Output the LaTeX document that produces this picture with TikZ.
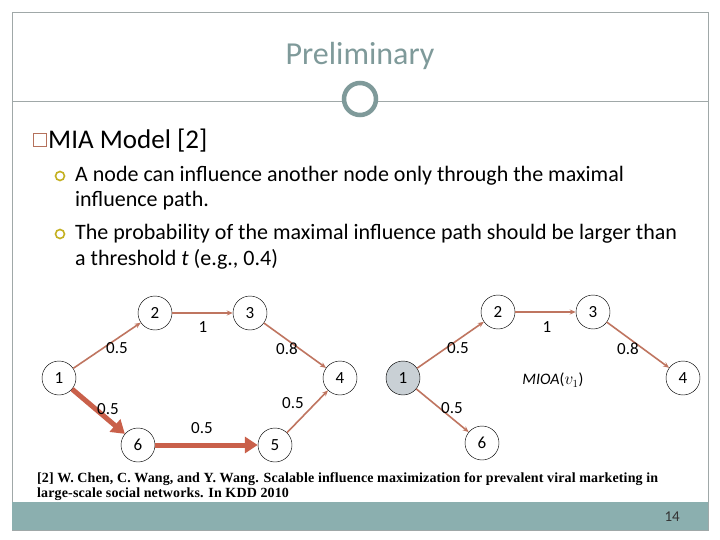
\documentclass[tikz,border=0pt]{standalone}
\usepackage{fontspec}
\setmainfont{Carlito}
\newfontfamily\reffont[LetterSpace=1]{Liberation Serif}
\usetikzlibrary{arrows.meta}
\definecolor{teal1}{HTML}{8BAFAF}
\definecolor{titlec}{HTML}{7F9A9A}
\definecolor{framec}{HTML}{A0A8A8}
\definecolor{edgec}{HTML}{BF7560}
\definecolor{thickc}{HTML}{C9604A}
\definecolor{bulc}{HTML}{B5715C}
\definecolor{subbul}{HTML}{C4B020}
\definecolor{seedc}{HTML}{C9D0D5}
\begin{document}
\begin{tikzpicture}[x=1pt,y=-1pt,
  vtx/.style={circle,draw=black,line width=0.45pt,minimum size=34pt,inner sep=0pt,font=\fontsize{17}{17}\selectfont},
  thin/.style={draw=edgec,line width=1.6pt,-{Stealth[length=6pt,width=5pt]}},
  thick/.style={draw=thickc,line width=5pt,-{Triangle[length=13pt,width=16pt]}},
  elab/.style={font=\fontsize{17}{17}\selectfont,inner sep=0pt},
  txt/.style={anchor=base west,inner sep=0pt,font=\fontsize{22}{22}\selectfont},
  reft/.style={anchor=base west,inner sep=0pt,font=\reffont\bfseries\fontsize{14}{15}\selectfont},
  subb/.style={circle,draw=subbul,line width=1.6pt,minimum size=9pt,inner sep=0pt}]
\useasboundingbox (0,0) rectangle (720,540);
\fill[white] (0,0) rectangle (720,540);
% frame
\draw[framec,line width=0.8pt] (12,12) rectangle (708,530);
\fill[teal1] (12,502) rectangle (708,530);
\draw[framec,line width=0.8pt] (12,101) -- (708,101);
\node[circle,draw=titlec,fill=white,line width=4.5pt,minimum size=32pt,inner sep=0pt] (ring) at (360,99) {};
\node[anchor=base,inner sep=0pt,font=\fontsize{32}{32}\selectfont,text=titlec] (title) at (360,65) {Preliminary};
% bullets
\node[draw=bulc,line width=1.2pt,minimum size=13pt,inner sep=0pt] (sq) at (40,140) {};
\node[anchor=base west,inner sep=0pt,font=\fontsize{27}{27}\selectfont] (h) at (48,149) {MIA Model [2]};
\node[subb] (b1) at (60,176) {};
\node[txt] (t1) at (75,182) {A node can influence another node only through the maximal};
\node[txt] (t1b) at (75,207) {influence path.};
\node[subb] (b2) at (60,234) {};
\node[txt] (t2) at (75,240) {The probability of the maximal influence path should be larger than};
\node[txt] (t2b) at (75,265) {a threshold \textit{t} (e.g., 0.4)};
% left graph
\node[vtx] (a1) at (59,378) {1};
\node[vtx] (a2) at (155,313) {2};
\node[vtx] (a3) at (250,313) {3};
\node[vtx] (a4) at (340,378) {4};
\node[vtx] (a5) at (275,445) {5};
\node[vtx] (a6) at (138,445) {6};
\draw[thin] (a1) -- (a2);
\draw[thin] (a2) -- (a3);
\draw[thin] (a3) -- (a4);
\draw[thin] (a5) -- (a4);
\draw[thick] (a1) -- (a6);
\draw[thick] (a6) -- (a5);
\node[elab] (l12) at (117,348) {0.5};
\node[elab] (l23) at (203,327) {1};
\node[elab] (l34) at (287,349) {0.8};
\node[elab] (l16) at (108,409) {0.5};
\node[elab] (l65) at (202,428) {0.5};
\node[elab] (l54) at (293,403) {0.5};
% right graph
\node[vtx,fill=seedc] (b1n) at (403,378) {1};
\node[vtx] (b2n) at (498,312) {2};
\node[vtx] (b3n) at (593,312) {3};
\node[vtx] (b4n) at (683,378) {4};
\node[vtx] (b6n) at (482,443) {6};
\draw[thin] (b1n) -- (b2n);
\draw[thin] (b2n) -- (b3n);
\draw[thin] (b3n) -- (b4n);
\draw[thin] (b1n) -- (b6n);
\node[elab] (r12) at (458,348) {0.5};
\node[elab] (r23) at (547,327) {1};
\node[elab] (r34) at (628,349) {0.8};
\node[elab] (r16) at (452,408) {0.5};
\node[elab,font=\fontsize{16}{16}\selectfont] (mioa) at (553,380) {\textit{MIOA}($v_1$)};
% reference
\node[reft] (ref1) at (37,482) {[2] W. Chen, C. Wang, and Y. Wang. Scalable influence maximization for prevalent viral marketing in};
\node[reft] (ref2) at (37,497) {large-scale social networks. In KDD 2010};
\node[anchor=base east,inner sep=0pt,font=\fontsize{15}{15}\selectfont,text=black!80] (pg) at (680,521) {14};
\end{tikzpicture}
\end{document}
